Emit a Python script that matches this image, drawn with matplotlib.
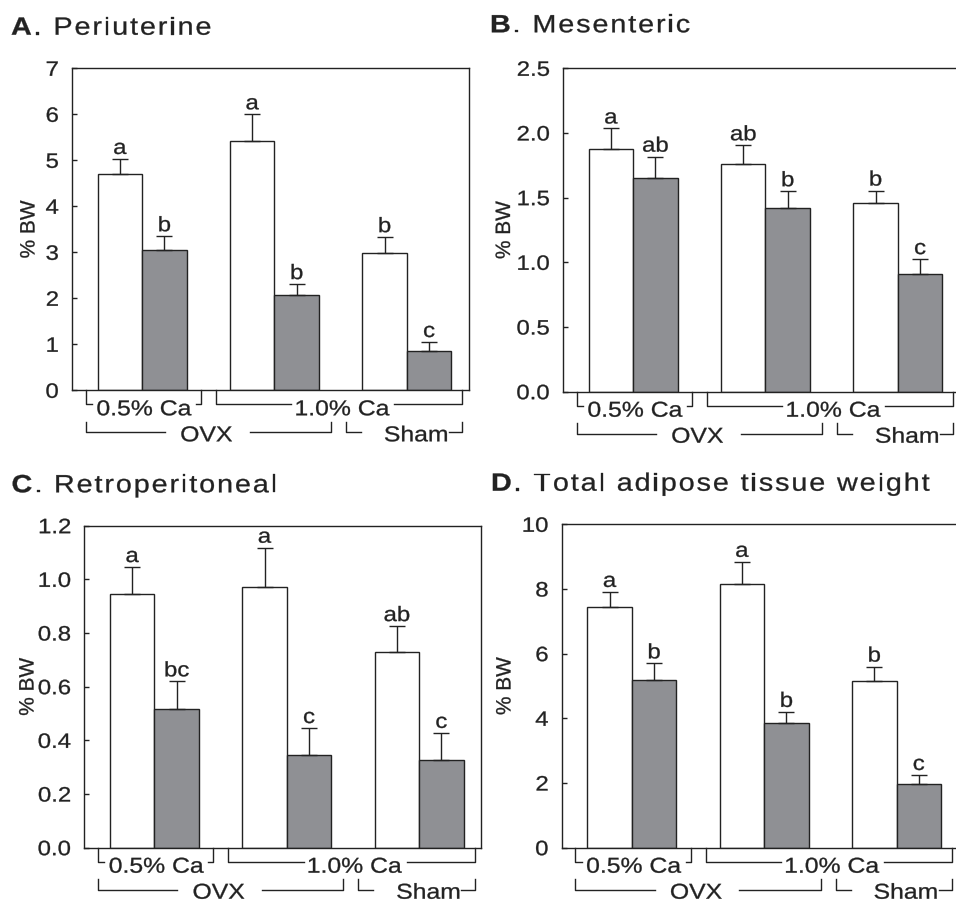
import matplotlib
matplotlib.use('Agg')
import matplotlib.pyplot as plt
import numpy as np
from matplotlib.font_manager import FontProperties, findfont, get_font
from matplotlib.patheffects import AbstractPathEffect
from matplotlib.textpath import TextPath
from matplotlib.transforms import Affine2D

plt.rcParams['font.family'] = ['Liberation Sans', 'DejaVu Sans']

W, H, DPI = 956, 904, 100
INK = '#222222'
GRAY = '#8f9094'
SX = 1.15  # the source font is drawn wider than Arial
HEAVY = 0.22  # extra stroke (pt) on glyph outlines

# groups: OVX 0.5% Ca, OVX 1.0% Ca, Sham 1.0% Ca
# open bars / filled bars, mean and upper SE, letters above

peri_open = [4.70, 5.41, 2.98]
peri_open_se = [0.33, 0.59, 0.35]
peri_fill = [3.04, 2.07, 0.86]
peri_fill_se = [0.31, 0.24, 0.19]
peri_open_lab = ['a', 'a', 'b']
peri_fill_lab = ['b', 'b', 'c']
peri_ticks = [0, 1, 2, 3, 4, 5, 6, 7]
peri_ticklabels = ['0', '1', '2', '3', '4', '5', '6', '7']

mes_open = [1.875, 1.76, 1.455]
mes_open_se = [0.16, 0.145, 0.10]
mes_fill = [1.65, 1.42, 0.91]
mes_fill_se = [0.167, 0.13, 0.115]
mes_open_lab = ['a', 'ab', 'b']
mes_fill_lab = ['ab', 'b', 'c']
mes_ticks = [0.0, 0.5, 1.0, 1.5, 2.0, 2.5]
mes_ticklabels = ['0.0', '0.5', '1.0', '1.5', '2.0', '2.5']

retro_open = [0.944, 0.972, 0.730]
retro_open_se = [0.102, 0.146, 0.096]
retro_fill = [0.517, 0.345, 0.327]
retro_fill_se = [0.103, 0.101, 0.101]
retro_open_lab = ['a', 'a', 'ab']
retro_fill_lab = ['bc', 'c', 'c']
retro_ticks = [0.0, 0.2, 0.4, 0.6, 0.8, 1.0, 1.2]
retro_ticklabels = ['0.0', '0.2', '0.4', '0.6', '0.8', '1.0', '1.2']

total_open = [7.45, 8.14, 5.17]
total_open_se = [0.46, 0.70, 0.43]
total_fill = [5.20, 3.85, 1.97]
total_fill_se = [0.50, 0.35, 0.28]
total_open_lab = ['a', 'a', 'b']
total_fill_lab = ['b', 'b', 'c']
total_ticks = [0, 2, 4, 6, 8, 10]
total_ticklabels = ['0', '2', '4', '6', '8', '10']

titles = [('A', '. Periuterine'), ('B', '. Mesenteric'),
          ('C', '. Retroperitoneal'), ('D', '. Total adipose tissue weight')]

# bracket labels under the x axis: text, start, end, text centre, gaps (px), row
brackets = [('0.5% Ca', -0.427, 0.444, 0.013, 5, 5, 0),
            ('1.0% Ca', 0.557, 2.42, 1.51, 4, 6, 0),
            ('OVX', -0.427, 1.426, 0.485, 16, 18, 1),
            ('Sham', 1.54, 2.42, 2.07, 24, 2, 1)]


class StretchX(AbstractPathEffect):
    """draw text glyphs wider in x (about pen origin, ink centre or right edge), slightly heavier"""
    def __init__(self, sx, anchor='origin', lw=HEAVY):
        super().__init__()
        self.sx = sx
        self.anchor = anchor
        self.lw = lw

    def draw_path(self, renderer, gc, tpath, affine, rgbFace=None):
        ext = tpath.get_extents()
        a = {'origin': 0, 'center': (ext.x0 + ext.x1) / 2, 'right': ext.x1}[self.anchor]
        t = Affine2D().translate(-a, 0).scale(self.sx, 1).translate(a, 0) + affine
        gc0 = renderer.new_gc()
        gc0.copy_properties(gc)
        if rgbFace is not None:
            gc0.set_foreground(rgbFace)
        gc0.set_linewidth(self.lw)
        renderer.draw_path(gc0, tpath, t, rgbFace)
        gc0.restore()


def ink_width(s, size, weight='normal'):
    tp = TextPath((0, 0), s, size=size, prop=FontProperties(family='Liberation Sans', weight=weight))
    return tp.get_extents().width * DPI / 72 * SX


def advances(s, size, weight):
    font = get_font(findfont(FontProperties(family='Liberation Sans', weight=weight)))
    font.set_size(size, DPI)
    return [font.load_char(ord(c)).linearHoriAdvance / 65536 for c in s]


def spaced(parent, x, y, s, base, size, track, dx=0, weight='normal'):
    # letter-spaced, widened text; one Text per glyph
    adv = advances(s, size, weight)
    pos = dx
    for c, a in zip(s, adv):
        if c != ' ':
            parent.text(x, y, c, transform=base + Affine2D().translate(pos, 0),
                        fontsize=size, fontweight=weight, color=INK,
                        ha='left', va='baseline', clip_on=False,
                        path_effects=[StretchX(SX)])
        pos += a * SX + track
    return pos


fig = plt.figure(figsize=(W / DPI, H / DPI), dpi=DPI)

panels = [
    (peri_open, peri_open_se, peri_fill, peri_fill_se, peri_open_lab, peri_fill_lab,
     peri_ticks, peri_ticklabels, (72, 69.3, 391.3), (11, 35.7), 29),
    (mes_open, mes_open_se, mes_fill, mes_fill_se, mes_open_lab, mes_fill_lab,
     mes_ticks, mes_ticklabels, (563, 69.3, 392.7), (490, 33.3), 504.5),
    (retro_open, retro_open_se, retro_fill, retro_fill_se, retro_open_lab, retro_fill_lab,
     retro_ticks, retro_ticklabels, (84.3, 526.7, 848.7), (11.5, 493.3), 28),
    (total_open, total_open_se, total_fill, total_fill_se, total_open_lab, total_fill_lab,
     total_ticks, total_ticklabels, (561.7, 525.3, 848.7), (491, 491.7), 505),
]

x = np.arange(3)
bw = 0.336
AW = 397

for i, (op, op_se, fi, fi_se, op_lab, fi_lab, ticks, ticklabels, box, tpos, ylx) in enumerate(panels):
    left, top, bottom = box
    ax = fig.add_axes([left / W, 1 - bottom / H, AW / W, (bottom - top) / H])
    ax.set_xlim(-0.53, 2.47)
    ax.set_ylim(ticks[0], ticks[-1])

    ax.bar(x - bw / 2, op, bw, color='white', edgecolor=INK, linewidth=1.0, zorder=2)
    ax.bar(x + bw / 2, fi, bw, color=GRAY, edgecolor=INK, linewidth=1.0, zorder=2)
    for xs, v, e in [(x - bw / 2, op, op_se), (x + bw / 2, fi, fi_se)]:
        ax.errorbar(xs, v, yerr=[np.zeros(3), e], fmt='none', ecolor=INK,
                    elinewidth=1.0, capsize=6.1, capthick=1.0, zorder=3)
    lift = ax.transData + Affine2D().translate(0, 5)
    for xs, v, e, labs in [(x - bw / 2, op, op_se, op_lab), (x + bw / 2, fi, fi_se, fi_lab)]:
        for xi, vi, ei, lab in zip(xs, v, e, labs):
            ax.text(xi, vi + ei, lab, transform=lift, fontsize=15, color=INK,
                    ha='center', va='baseline', path_effects=[StretchX(SX, 'center')])

    ax.set_xticks([])
    ax.set_yticks(ticks)
    ax.set_yticklabels(ticklabels)
    ax.tick_params(axis='y', direction='in', length=3.6, width=1.0, color=INK,
                   labelsize=15, labelcolor=INK, pad=9.5)
    for lbl in ax.yaxis.get_majorticklabels():
        lbl.set_path_effects([StretchX(SX, 'right')])
    for sp in ax.spines.values():
        sp.set_linewidth(1.0)
        sp.set_color(INK)

    ax.set_ylabel('% BW', fontsize=15, color=INK, va='center',
                  path_effects=[StretchX(1.0, 'center')])
    ax.yaxis.set_label_coords((ylx - left) / AW, 0.5)

    # title
    tx, ty = tpos
    base = fig.transFigure
    end = spaced(fig, tx / W, 1 - ty / H, titles[i][0], base, 18, 1.9, weight='bold')
    spaced(fig, tx / W, 1 - ty / H, titles[i][1], base, 18, 1.9, dx=end)

    # group brackets
    ppu = ax.transData.transform((1, 0))[0] - ax.transData.transform((0, 0))[0]
    hpx = ax.bbox.height
    xt = ax.get_xaxis_transform()
    for text, x0, x1, c, gl, gr, row in brackets:
        if row == 0:
            y_top, y_line, y_txt = 0, -14, -25
        else:
            y_top, y_line, y_txt = -31.5, -42, -51
        ax.text(c, 0, text, transform=xt + Affine2D().translate(0, y_txt),
                fontsize=15.5, color=INK, ha='center', va='baseline', clip_on=False,
                path_effects=[StretchX(SX, 'center')])
        half = ink_width(text, 15.5) / 2
        yt, yl = y_top / hpx, y_line / hpx
        ax.plot([x0, x0, c - (half + gl) / ppu], [yt, yl, yl], transform=xt,
                color=INK, lw=1.0, clip_on=False)
        ax.plot([c + (half + gr) / ppu, x1, x1], [yl, yl, yt], transform=xt,
                color=INK, lw=1.0, clip_on=False)

fig.savefig('out.png', dpi=DPI)
